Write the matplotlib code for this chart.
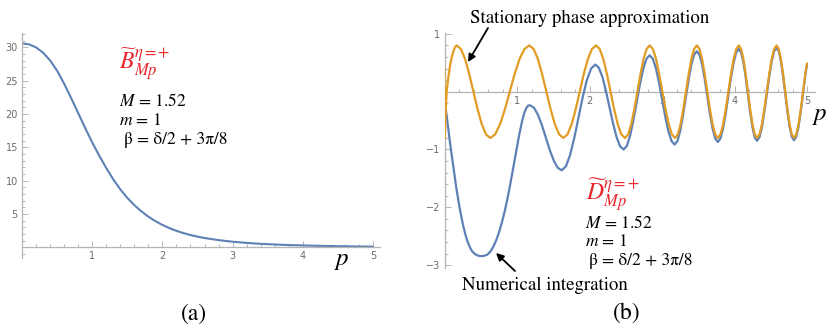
import matplotlib
matplotlib.use("Agg")
import matplotlib.pyplot as plt
from matplotlib.ticker import MultipleLocator, FixedLocator

# ---------------- data ----------------
# panel (a): B~ versus p
b_p = [0.0, 0.1, 0.2, 0.3, 0.4, 0.5, 0.6, 0.7, 0.8, 0.9, 1.0, 1.1, 1.2, 1.3, 1.4,
       1.5, 1.6, 1.7, 1.8, 1.9, 2.0, 2.1, 2.2, 2.3, 2.4, 2.5, 2.6, 2.7, 2.8, 2.9,
       3.0, 3.2, 3.4, 3.6, 3.8, 4.0, 4.25, 4.5, 4.75, 5.0]
b_v = [30.6, 30.45, 30.0, 29.2, 28.05, 26.5, 24.55, 22.4, 20.15, 17.9, 15.75,
       13.75, 11.9, 10.2, 8.7, 7.42, 6.33, 5.4, 4.6, 3.93, 3.36, 2.88, 2.47,
       2.13, 1.84, 1.6, 1.4, 1.23, 1.08, 0.95, 0.84, 0.66, 0.52, 0.42, 0.34,
       0.28, 0.22, 0.17, 0.13, 0.10]

# panel (b): stationary phase approximation (orange)
sp_p = [0.000, 0.003, 0.010, 0.020, 0.030, 0.050, 0.075, 0.100, 0.125, 0.150, 0.168,
        0.226, 0.284, 0.341, 0.399, 0.457, 0.515, 0.572, 0.630,
        0.698, 0.765, 0.833, 0.900, 0.968, 1.035, 1.103, 1.170,
        1.229, 1.288, 1.346, 1.405, 1.464, 1.523, 1.581, 1.640,
        1.696, 1.753, 1.809, 1.865, 1.921, 1.978, 2.034, 2.090,
        2.140, 2.190, 2.240, 2.290, 2.340, 2.390, 2.440, 2.490,
        2.533, 2.575, 2.618, 2.660, 2.703, 2.745, 2.788, 2.830,
        2.874, 2.918, 2.961, 3.005, 3.049, 3.093, 3.136, 3.180,
        3.218, 3.255, 3.293, 3.330, 3.368, 3.405, 3.443, 3.480,
        3.516, 3.553, 3.589, 3.625, 3.661, 3.698, 3.734, 3.770,
        3.806, 3.843, 3.879, 3.915, 3.951, 3.988, 4.024, 4.060,
        4.091, 4.123, 4.154, 4.185, 4.216, 4.248, 4.279, 4.310,
        4.344, 4.378, 4.411, 4.445, 4.479, 4.513, 4.546, 4.580,
        4.610, 4.640, 4.670, 4.700, 4.730, 4.760, 4.790, 4.820,
        4.851, 4.883, 4.914, 4.945, 4.976, 5.000]
sp_v = [0.40, -0.80, -0.55, -0.25, 0.00, 0.22, 0.44, 0.60, 0.71, 0.78, 0.80,
        0.739, 0.566, 0.306, 0.0, -0.306, -0.566, -0.739, -0.80,
        -0.739, -0.566, -0.306, 0.0, 0.306, 0.566, 0.739, 0.80,
        0.739, 0.566, 0.306, 0.0, -0.306, -0.566, -0.739, -0.80,
        -0.739, -0.566, -0.306, 0.0, 0.306, 0.566, 0.739, 0.80,
        0.739, 0.566, 0.306, 0.0, -0.306, -0.566, -0.739, -0.80,
        -0.739, -0.566, -0.306, 0.0, 0.306, 0.566, 0.739, 0.80,
        0.739, 0.566, 0.306, 0.0, -0.306, -0.566, -0.739, -0.80,
        -0.739, -0.566, -0.306, 0.0, 0.306, 0.566, 0.739, 0.80,
        0.739, 0.566, 0.306, 0.0, -0.306, -0.566, -0.739, -0.80,
        -0.739, -0.566, -0.306, 0.0, 0.306, 0.566, 0.739, 0.80,
        0.739, 0.566, 0.306, 0.0, -0.306, -0.566, -0.739, -0.80,
        -0.739, -0.566, -0.306, 0.0, 0.306, 0.566, 0.739, 0.80,
        0.739, 0.566, 0.306, 0.0, -0.306, -0.566, -0.739, -0.80,
        -0.739, -0.566, -0.306, 0.0, 0.306, 0.49]

# panel (b): numerical integration (blue)
ni_p = [0.00, 0.02, 0.04, 0.06, 0.08, 0.10, 0.12, 0.14, 0.16, 0.18, 0.20, 0.23,
        0.26, 0.29, 0.32, 0.35, 0.38, 0.42, 0.46, 0.50, 0.545, 0.59, 0.63, 0.67,
        0.71, 0.75, 0.79, 0.83, 0.87, 0.91, 0.95, 0.99, 1.03, 1.07, 1.10, 1.13,
        1.155, 1.18,
        1.235, 1.289, 1.344, 1.399, 1.453, 1.508, 1.562, 1.617,
        1.675, 1.733, 1.791, 1.849, 1.906, 1.964, 2.022, 2.080,
        2.129, 2.178, 2.226, 2.275, 2.324, 2.373, 2.421, 2.470,
        2.515, 2.560, 2.605, 2.650, 2.695, 2.740, 2.785, 2.830,
        2.873, 2.916, 2.959, 3.003, 3.046, 3.089, 3.132, 3.175,
        3.213, 3.251, 3.289, 3.328, 3.366, 3.404, 3.442, 3.480,
        3.516, 3.553, 3.589, 3.625, 3.661, 3.698, 3.734, 3.770,
        3.806, 3.843, 3.879, 3.915, 3.951, 3.988, 4.024, 4.060,
        4.091, 4.123, 4.154, 4.185, 4.216, 4.248, 4.279, 4.310,
        4.344, 4.378, 4.411, 4.445, 4.479, 4.513, 4.546, 4.580,
        4.610, 4.640, 4.670, 4.700, 4.730, 4.760, 4.790, 4.820,
        4.851, 4.883, 4.914, 4.945, 4.976, 5.000]
ni_v = [-0.15, -0.32, -0.52, -0.72, -0.92, -1.10, -1.29, -1.47, -1.64, -1.80,
        -1.95, -2.15, -2.33, -2.48, -2.60, -2.69, -2.76, -2.81, -2.835, -2.845,
        -2.84, -2.82, -2.77, -2.69, -2.58, -2.44, -2.27, -2.07, -1.84, -1.58,
        -1.30, -1.02, -0.75, -0.51, -0.37, -0.28, -0.24, -0.235,
        -0.278, -0.400, -0.582, -0.798, -1.013, -1.195, -1.317, -1.36,
        -1.290, -1.092, -0.795, -0.445, -0.095, 0.202, 0.400, 0.47,
        0.414, 0.255, 0.016, -0.265, -0.546, -0.785, -0.944, -1.0,
        -0.938, -0.761, -0.497, -0.185, 0.127, 0.391, 0.568, 0.63,
        0.571, 0.404, 0.153, -0.143, -0.438, -0.689, -0.856, -0.915,
        -0.853, -0.679, -0.416, -0.108, 0.201, 0.464, 0.638, 0.70,
        0.640, 0.470, 0.215, -0.085, -0.385, -0.640, -0.810, -0.87,
        -0.809, -0.634, -0.373, -0.065, 0.243, 0.504, 0.679, 0.74,
        0.679, 0.507, 0.249, -0.055, -0.359, -0.617, -0.789, -0.85,
        -0.789, -0.614, -0.353, -0.045, 0.263, 0.524, 0.699, 0.76,
        0.699, 0.526, 0.266, -0.04, -0.346, -0.606, -0.779, -0.84,
        -0.78, -0.61, -0.34, -0.03, 0.28, 0.47]

a_xticks = [1, 2, 3, 4, 5]
a_yticks = [5, 10, 15, 20, 25, 30]
b_xticks = [1, 2, 3, 4, 5]
b_yticks = [-3, -2, -1, 1]

# ---------------- figure ----------------
W, H = 831, 334
plt.rcParams['mathtext.fontset'] = 'stix'
fig = plt.figure(figsize=(W / 100, H / 100), dpi=100)

def fx(x):
    return x / W

def fy(y):
    return 1 - y / H

BLUE = '#5e81b5'
ORANGE = '#e19c24'
AXC = '#b5b5b5'
TXC = '#6b6b6b'
RED = '#e8252a'
SERIF = 'STIXGeneral'


def style_axes(ax, xticks, yticks):
    for s in ['top', 'right']:
        ax.spines[s].set_visible(False)
    ax.spines['left'].set_position(('data', 0))
    ax.spines['bottom'].set_position(('data', 0))
    for s in ['left', 'bottom']:
        ax.spines[s].set_color(AXC)
        ax.spines[s].set_linewidth(0.9)
    ax.xaxis.set_major_locator(FixedLocator(xticks))
    ax.yaxis.set_major_locator(FixedLocator(yticks))
    ax.tick_params(which='both', direction='in', colors=AXC, labelcolor=TXC,
                   labelsize=7, width=0.7, pad=3)
    ax.tick_params(which='major', length=4)
    ax.tick_params(which='minor', length=2)
    for lab in ax.get_xticklabels() + ax.get_yticklabels():
        lab.set_fontfamily('DejaVu Sans')


line_kw = dict(solid_joinstyle='round', solid_capstyle='round')

# ---- panel (a) ----
axa = fig.add_axes([fx(22), fy(258.3), fx(380 - 22), (258.3 - 32.7) / H])
axa.plot(b_p, b_v, color=BLUE, lw=1.5, **line_kw)
axa.set_xlim(0, 5.1)
axa.set_ylim(-1.65, 32.2)
style_axes(axa, a_xticks, a_yticks)
axa.xaxis.set_minor_locator(MultipleLocator(0.2))
axa.yaxis.set_minor_locator(MultipleLocator(1))
axa.patch.set_alpha(0)

# ---- panel (b) ----
axb = fig.add_axes([fx(444.5), fy(268), fx(815 - 444.5), (268 - 33.3) / H])
axb.plot(ni_p, ni_v, color=BLUE, lw=1.6, zorder=3, **line_kw)
axb.plot(sp_p, sp_v, color=ORANGE, lw=1.6, zorder=4, **line_kw)
axb.set_xlim(0, 5.11)
axb.set_ylim(-3.05, 1.01)
style_axes(axb, b_xticks, b_yticks)
axb.xaxis.set_minor_locator(MultipleLocator(0.2))
axb.yaxis.set_minor_locator(MultipleLocator(0.2))
axb.patch.set_alpha(0)

# ---- axis labels p ----
fig.text(fx(342), fy(260), r'$p$', fontsize=18, ha='center', va='center')
fig.text(fx(820), fy(115), r'$p$', fontsize=18, ha='center', va='center')

# ---- panel (a) annotations ----
fig.text(fx(119), fy(64), r'$\widetilde{B}^{\eta=+}_{Mp}$', color=RED,
         fontsize=17, ha='left', va='center')
fig.text(fx(119), fy(101.5), r'$M$ = 1.52', fontfamily=SERIF, fontsize=12.5,
         ha='left', va='center')
fig.text(fx(119), fy(121), r'$m$ = 1', fontfamily=SERIF, fontsize=12.5,
         ha='left', va='center')
fig.text(fx(123.5), fy(140), 'β = δ/2 + 3π/8', fontfamily=SERIF, fontsize=12.5,
         ha='left', va='center')

# ---- panel (b) annotations ----
fig.text(fx(585.5), fy(195), r'$\widetilde{D}^{\eta=+}_{Mp}$', color=RED,
         fontsize=17, ha='left', va='center')
fig.text(fx(585), fy(223), r'$M$ = 1.52', fontfamily=SERIF, fontsize=12.5,
         ha='left', va='center')
fig.text(fx(585), fy(242), r'$m$ = 1', fontfamily=SERIF, fontsize=12.5,
         ha='left', va='center')
fig.text(fx(589), fy(260.5), 'β = δ/2 + 3π/8', fontfamily=SERIF, fontsize=12.5,
         ha='left', va='center')

fig.text(fx(590), fy(18), 'Stationary phase approximation', fontfamily=SERIF,
         fontsize=13.5, ha='center', va='center')
fig.text(fx(545), fy(285), 'Numerical integration', fontfamily=SERIF,
         fontsize=13.5, ha='center', va='center')

arrow_kw = dict(arrowstyle='-|>', color='black', lw=1.3, mutation_scale=11,
                shrinkA=0, shrinkB=0)
axb.annotate('', xy=(fx(468), fy(62)), xytext=(fx(488), fy(28)),
             xycoords='figure fraction', textcoords='figure fraction',
             arrowprops=arrow_kw)
axb.annotate('', xy=(fx(496), fy(253)), xytext=(fx(515), fy(271)),
             xycoords='figure fraction', textcoords='figure fraction',
             arrowprops=arrow_kw)

# ---- panel letters ----
fig.text(fx(194), fy(314), '(a)', fontfamily=SERIF, fontsize=17,
         ha='center', va='center')
fig.text(fx(627), fy(313), '(b)', fontfamily=SERIF, fontsize=17,
         ha='center', va='center')

fig.savefig('out.png', dpi=100)
